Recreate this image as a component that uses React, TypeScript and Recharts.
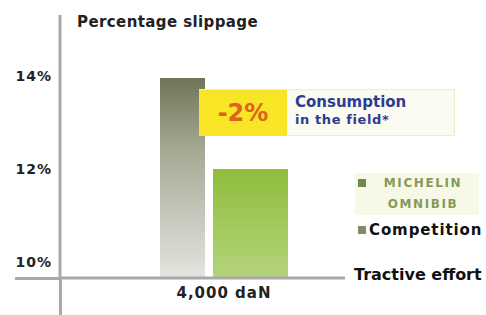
import React from "react";
import { BarChart, Bar, XAxis, YAxis, Legend } from "recharts";

// tractive effort categories
const categories = ["4,000 daN"];
// percentage slippage per tyre
const competitionValues = [13.95];
const michelinValues = [12.0];
const yTicks = [10, 12, 14];
const yDomain = [9.66, 15.3];

const data = categories.map((c, i) => ({
  effort: c,
  competition: competitionValues[i],
  michelin: michelinValues[i],
}));

const font = "'DejaVu Sans', sans-serif";
const axisGray = "#a9a9a9";

const LegendBox = () => (
  <div style={{ fontFamily: font, fontWeight: "bold" }}>
    <div style={{ display: "flex", alignItems: "flex-start", background: "#f7f9e6", width: 124 }}>
      <span style={{ width: 8, height: 8, background: "#6f8a4a", marginTop: 6, marginLeft: 3, flex: "none" }} />
      <span
        style={{
          color: "#85995a",
          fontSize: 12,
          letterSpacing: 1.6,
          lineHeight: "21px",
          textAlign: "center",
          width: 108,
          marginLeft: 3,
        }}
      >
        MICHELIN
        <br />
        OMNIBIB
      </span>
    </div>
    <div style={{ display: "flex", alignItems: "center", marginTop: 6 }}>
      <span style={{ width: 8, height: 8, background: "#7f8a6c", marginLeft: 3, flex: "none" }} />
      <span style={{ color: "#111", fontSize: 15, letterSpacing: 0.9, marginLeft: 3, whiteSpace: "nowrap" }}>Competition</span>
    </div>
  </div>
);

const App: React.FC = () => {
  const diff = Math.round(michelinValues[0] - competitionValues[0]);
  return (
    <div style={{ position: "absolute", left: 0, top: 0, width: 486, height: 315, background: "#fff", overflow: "hidden" }}>
      {/* axis extensions */}
      <div style={{ position: "absolute", left: 15, top: 277, width: 46, height: 3, background: axisGray }} />
      <div style={{ position: "absolute", left: 59, top: 278, width: 3, height: 40, background: axisGray }} />
      <BarChart
        width={486}
        height={315}
        data={data}
        margin={{ top: 15, right: 10, bottom: 0, left: 0 }}
        barGap={8}
      >
        <defs>
          <linearGradient id="gradComp" x1="0" y1="0" x2="0" y2="1">
            <stop offset="0%" stopColor="#6f7657" />
            <stop offset="35%" stopColor="#a3a893" />
            <stop offset="100%" stopColor="#e3e5df" />
          </linearGradient>
          <linearGradient id="gradMich" x1="0" y1="0" x2="0" y2="1">
            <stop offset="0%" stopColor="#8fbd3c" />
            <stop offset="100%" stopColor="#b4d47c" />
          </linearGradient>
        </defs>
        <YAxis
          width={60}
          domain={yDomain}
          ticks={yTicks}
          allowDataOverflow
          tickFormatter={(v) => `${v}%`}
          axisLine={{ stroke: axisGray, strokeWidth: 3 }}
          tickLine={false}
          tick={{ fontSize: 14, fontWeight: "bold", fill: "#222", fontFamily: font, letterSpacing: 1 }}
        />
        <XAxis
          dataKey="effort"
          height={37}
          padding={{ left: 43, right: 0 }}
          axisLine={{ stroke: axisGray, strokeWidth: 3 }}
          tickLine={false}
          tickMargin={3}
          tick={{ fontSize: 15, fontWeight: "bold", fill: "#222", fontFamily: font, letterSpacing: 1 }}
        />
        <Legend
          layout="vertical"
          align="right"
          verticalAlign="middle"
          content={() => <LegendBox />}
          wrapperStyle={{ position: "absolute", left: 355, top: 173, width: 131 }}
        />
        <Bar dataKey="competition" name="Competition" barSize={45} fill="url(#gradComp)" isAnimationActive={false} />
        <Bar dataKey="michelin" name="MICHELIN OMNIBIB" barSize={75} fill="url(#gradMich)" isAnimationActive={false} />
      </BarChart>

      {/* titles */}
      <div style={{ position: "absolute", left: 77, top: 13, fontFamily: font, fontWeight: "bold", fontSize: 15, letterSpacing: 0.4, color: "#222", whiteSpace: "nowrap" }}>
        Percentage slippage
      </div>
      <div style={{ position: "absolute", left: 354, top: 265, fontFamily: font, fontWeight: "bold", fontSize: 16, color: "#111", whiteSpace: "nowrap" }}>
        Tractive effort
      </div>

      {/* consumption callout */}
      <div
        style={{
          position: "absolute",
          left: 199,
          top: 89,
          width: 256,
          height: 47,
          background: "#fbfbf2",
          border: "1px solid #f0eec0",
          boxSizing: "border-box",
        }}
      />
      <div
        style={{
          position: "absolute",
          left: 199,
          top: 90,
          width: 88,
          height: 46,
          background: "#f7e526",
          display: "flex",
          alignItems: "center",
          justifyContent: "center",
          fontFamily: font,
          fontWeight: "bold",
          fontSize: 24,
          color: "#e0621c",
        }}
      >
        {`${diff}%`}
      </div>
      <div style={{ position: "absolute", left: 295, top: 93, fontFamily: font, fontWeight: "bold", color: "#2c3c92", whiteSpace: "nowrap" }}>
        <div style={{ fontSize: 15, lineHeight: "18px" }}>Consumption</div>
        <div style={{ fontSize: 13, lineHeight: "18px", letterSpacing: 0.6 }}>in the field*</div>
      </div>
    </div>
  );
};

export default App;
